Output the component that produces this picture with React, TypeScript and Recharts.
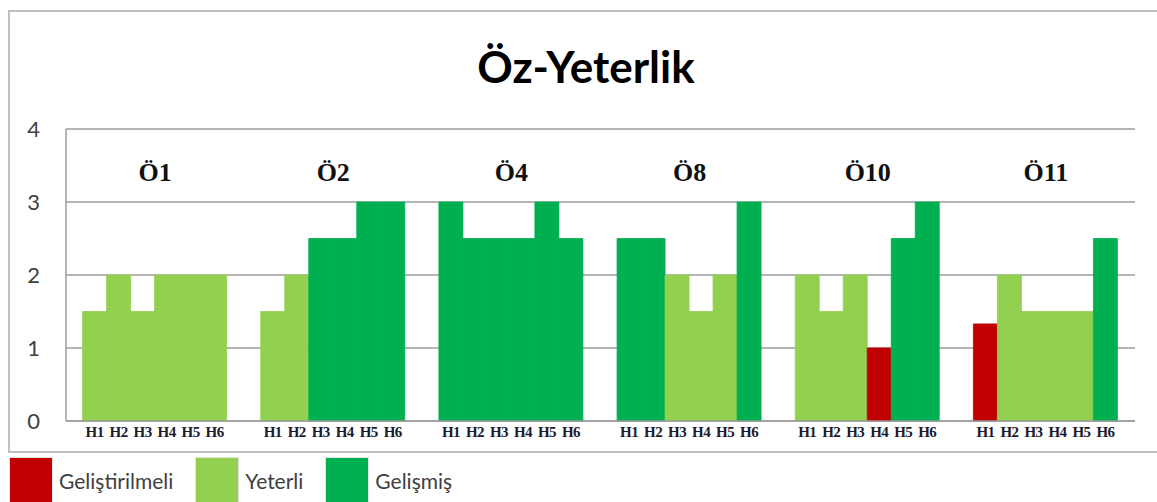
import React from "react";
import { BarChart, Bar, XAxis, YAxis, CartesianGrid, Cell, LabelList, Legend } from "recharts";

// groups (öğretmen) and the six items under each
const groups = ["Ö1", "Ö2", "Ö4", "Ö8", "Ö10", "Ö11"];
const items = ["H1", "H2", "H3", "H4", "H5", "H6"];

// scores per group, H1..H6
const o1 = [1.5, 2, 1.5, 2, 2, 2];
const o2 = [1.5, 2, 2.5, 2.5, 3, 3];
const o4 = [3, 2.5, 2.5, 2.5, 3, 2.5];
const o8 = [2.5, 2.5, 2, 1.5, 2, 3];
const o10 = [2, 1.5, 2, 1, 2.5, 3];
const o11 = [1.33, 2, 1.5, 1.5, 1.5, 2.5];
const groupScores = [o1, o2, o4, o8, o10, o11];

const yTicks = [0, 1, 2, 3, 4];

const levels = ["Geliştirilmeli", "Yeterli", "Gelişmiş"];
const levelColors = ["#C00000", "#92D050", "#00B050"];

const levelOf = (v: number) => (v >= 2.5 ? 2 : v >= 1.5 ? 1 : 0);

const data = groups.map((g, i) => {
  const row: Record<string, string | number> = { group: g };
  items.forEach((h, j) => {
    row[h] = groupScores[i][j];
  });
  return row;
});

const GRID = "#9c9c9c";
const SERIF = "'Liberation Serif', 'DejaVu Serif', serif";

function GroupTick(props: any) {
  const { x, y, payload } = props;
  return (
    <text x={x} y={y + 52} textAnchor="middle" fontFamily={SERIF} fontWeight={700} fontSize={26} fill="#111">
      {payload.value}
    </text>
  );
}

function itemLabel(name: string) {
  return (p: any) => {
    const vb = p.viewBox || p;
    const x = Number(vb.x) + Number(vb.width) / 2;
    const bottom = Number(vb.y) + Number(vb.height);
    return (
      <text
        x={x}
        y={bottom + 16}
        textAnchor="middle"
        fontFamily={SERIF}
        fontWeight={700}
        fontSize={15}
        letterSpacing={-0.6}
        fill="#1b1b2b"
      >
        {name}
      </text>
    );
  };
}

function LegendBox() {
  return (
    <div style={{ display: "flex", alignItems: "center", fontFamily: "Lato, sans-serif" }}>
      {levels.map((name, i) => (
        <div key={name} style={{ display: "flex", alignItems: "center", marginRight: 22 }}>
          <span
            style={{
              width: 42,
              height: 44,
              background: levelColors[i],
              border: "1px solid #e4e4e4",
              display: "inline-block",
            }}
          />
          <span style={{ marginLeft: 6, fontSize: 21, color: "#404040" }}>{name}</span>
        </div>
      ))}
    </div>
  );
}

export default function App() {
  return (
    <div
      style={{
        position: "absolute",
        left: 0,
        top: 0,
        width: 1157,
        height: 502,
        overflow: "hidden",
        background: "#fff",
      }}
    >
      <div
        style={{
          position: "absolute",
          left: 8,
          top: 10,
          width: 1170,
          height: 439,
          border: "2px solid #c0c0c0",
        }}
      />
      <div
        style={{
          position: "absolute",
          left: 386,
          top: 44,
          width: 400,
          textAlign: "center",
          fontFamily: "Lato, sans-serif",
          fontWeight: 700,
          fontSize: 44,
          lineHeight: "44px",
          color: "#000",
        }}
      >
        Öz-Yeterlik
      </div>
      <BarChart
        width={1157}
        height={502}
        data={data}
        margin={{ top: 128, right: 22, bottom: 51, left: 16 }}
        barGap={0}
        barCategoryGap="9.3%"
        style={{ position: "absolute", left: 0, top: 0 }}
      >
        <CartesianGrid vertical={false} stroke={GRID} strokeWidth={1.5} />
        <XAxis
          dataKey="group"
          height={30}
          tick={false}
          tickLine={false}
          axisLine={{ stroke: GRID, strokeWidth: 1.5 }}
        />
        <XAxis
          xAxisId="grp"
          dataKey="group"
          orientation="top"
          height={1}
          tickSize={0}
          tickMargin={0}
          axisLine={false}
          tickLine={false}
          tick={<GroupTick />}
          interval={0}
        />
        <YAxis
          domain={[0, 4]}
          ticks={yTicks}
          width={50}
          tickSize={0}
          tickMargin={26}
          tickLine={false}
          axisLine={{ stroke: GRID, strokeWidth: 1.5 }}
          tick={{ fontFamily: "Lato, sans-serif", fontSize: 22, fill: "#404040" }}
        />
        {items.map((h) => (
          <Bar key={h} dataKey={h} isAnimationActive={false}>
            {data.map((row, i) => {
              const c = levelColors[levelOf(Number(row[h]))];
              return <Cell key={i} fill={c} stroke={c} strokeWidth={0.8} />;
            })}
            <LabelList dataKey={h} content={itemLabel(h)} />
          </Bar>
        ))}
        <Legend
          layout="horizontal"
          verticalAlign="middle"
          content={() => <LegendBox />}
          wrapperStyle={{ left: 9, top: 457, width: 800, height: 45 }}
        />
      </BarChart>
    </div>
  );
}
